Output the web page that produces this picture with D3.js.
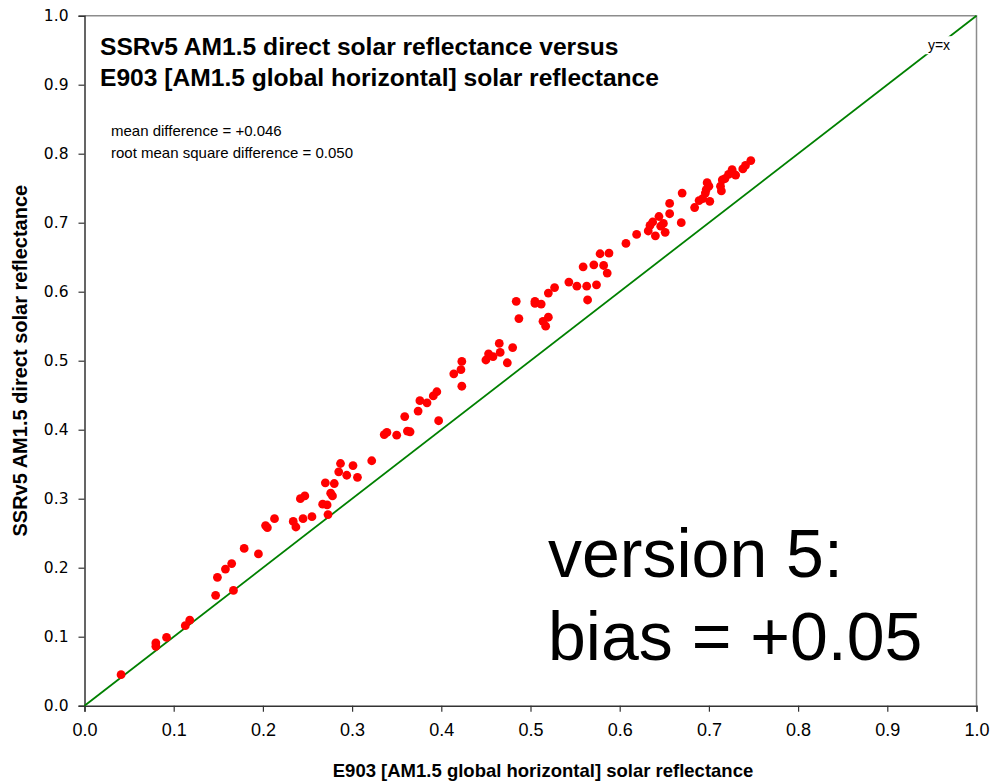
<!DOCTYPE html>
<html>
<head>
<meta charset="utf-8">
<script src="https://cdn.jsdelivr.net/npm/d3@7"></script>
<style>
  html, body { margin: 0; padding: 0; background: #fff; }
  svg { display: block; }
</style>
</head>
<body>
<svg id="chart" width="991" height="783"></svg>
<script>
// E903 [AM1.5 global horizontal] solar reflectance
const xValues = [
  0.041,0.080,0.080,0.092,0.113,0.118,0.147,0.149,0.158,0.165,0.167,0.179,0.195,
  0.203,0.205,0.213,0.234,0.237,0.245,0.255,0.242,0.247,0.267,0.272,0.273,0.270,0.280,0.276,0.278,0.287,0.285,0.294,0.301,0.306,0.322,
  0.336,0.339,0.350,0.362,0.365,0.359,0.374,0.376,0.384,0.391,0.395,0.397,0.414,0.422,0.423,0.423,0.450,0.453,0.458,0.466,0.465,0.474,0.480,0.484,0.487,
  0.505,0.505,0.512,0.520,0.514,0.517,0.520,0.527,0.543,0.552,0.563,0.564,0.574,0.559,0.571,0.582,0.586,0.578,0.588,0.607,0.619,
  0.632,0.634,0.637,0.640,0.644,0.646,0.649,0.651,0.656,0.656,0.669,0.670,0.684,0.689,0.693,0.696,0.698,0.701,0.700,0.697,0.713,0.715,0.714,0.718,0.722,0.726,0.727,0.730,0.738,0.741,0.747
];
// SSRv5 AM1.5 direct solar reflectance
const yValues = [
  0.045,0.091,0.086,0.099,0.116,0.124,0.160,0.186,0.198,0.206,0.167,0.228,0.220,
  0.261,0.258,0.271,0.267,0.259,0.271,0.274,0.300,0.304,0.292,0.291,0.277,0.323,0.322,0.308,0.304,0.351,0.339,0.334,0.348,0.331,0.355,
  0.393,0.396,0.392,0.398,0.397,0.419,0.427,0.442,0.439,0.449,0.455,0.413,0.481,0.487,0.499,0.463,0.501,0.510,0.506,0.512,0.525,0.497,0.519,0.586,0.561,
  0.586,0.583,0.582,0.563,0.557,0.550,0.598,0.606,0.614,0.608,0.608,0.588,0.610,0.636,0.639,0.638,0.627,0.655,0.656,0.670,0.683,
  0.688,0.696,0.701,0.681,0.709,0.695,0.699,0.686,0.713,0.728,0.700,0.743,0.722,0.732,0.735,0.743,0.758,0.731,0.753,0.748,0.753,0.762,0.746,0.764,0.770,0.777,0.772,0.769,0.778,0.783,0.790
];
const tickValues = [0,0.1,0.2,0.3,0.4,0.5,0.6,0.7,0.8,0.9,1.0];
const titleLines = ["SSRv5 AM1.5 direct solar reflectance versus", "E903 [AM1.5 global horizontal] solar reflectance"];
const statLines = ["mean difference = +0.046", "root mean square difference = 0.050"];
const bigLines = ["version 5:", "bias = +0.05"];
const xLabel = "E903 [AM1.5 global horizontal] solar reflectance";
const yLabel = "SSRv5 AM1.5 direct solar reflectance";
const refLine = [[0,0],[1,1]];

const W = 991, H = 783;
const m = {left: 84.5, right: 14.5, top: 15.7, bottom: 77.3};
const svg = d3.select("#chart");
const x = d3.scaleLinear().domain([0,1]).range([m.left, W - m.right]);
const y = d3.scaleLinear().domain([0,1]).range([H - m.bottom, m.top]);
const font = "'Liberation Sans', Arial, sans-serif";

// frame top/right
svg.append("path")
  .attr("d", `M${x(0)},${y(1)}H${x(1)}V${y(0)}`)
  .attr("fill","none").attr("stroke","#8c8c8c").attr("stroke-width",1.5);

// axes
const xAxis = svg.append("g").attr("transform",`translate(0,${y(0)})`)
  .call(d3.axisBottom(x).tickValues(tickValues).tickFormat(d3.format(".1f")).tickSizeOuter(0).tickSize(6).tickPadding(12));
xAxis.attr("font-family", font).attr("font-size", 18);
xAxis.selectAll("text").attr("fill","#000");
const yAxis = svg.append("g").attr("transform",`translate(${x(0)},0)`)
  .call(d3.axisLeft(y).tickValues(tickValues).tickFormat(d3.format(".1f")).tickSizeOuter(0).tickSize(6).tickPadding(10));
yAxis.attr("font-family", "'DejaVu Sans', Verdana, sans-serif").attr("font-size", 15.5);
yAxis.selectAll("text").attr("fill","#000");
[xAxis, yAxis].forEach(a => {
  a.select(".domain").attr("stroke","#333").attr("stroke-width",1.5);
  a.selectAll(".tick line").attr("stroke","#333").attr("stroke-width",1.2);
});

// y=x line
const line = d3.line().x(d => x(d[0])).y(d => y(d[1]));
svg.append("path").datum(refLine).attr("d", line)
  .attr("fill","none").attr("stroke","#008000").attr("stroke-width",1.8);

// y=x label with white background
const lblG = svg.append("g");
const bgRect = lblG.append("rect").attr("fill", "#fff");
const lbl = lblG.append("text").attr("x", x(0.958)).attr("y", y(0.950)).attr("text-anchor","middle")
  .attr("font-family", font).attr("font-size", 14).text("y=x");
const bb = lbl.node().getBBox();
bgRect.attr("x", bb.x - 3).attr("y", bb.y - 1).attr("width", bb.width + 6).attr("height", bb.height + 2);

// points
svg.append("g").selectAll("circle").data(xValues.map((v,i) => [v, yValues[i]]))
  .join("circle").attr("cx", d => x(d[0])).attr("cy", d => y(d[1])).attr("r", 4.4).attr("fill", "#ff0000");

// title
svg.append("g").selectAll("text").data(titleLines).join("text")
  .attr("x", 100).attr("y", (d,i) => 55 + i*31)
  .attr("font-family", font).attr("font-weight","bold").attr("font-size", 24.6).text(d => d);

// stats
svg.append("g").selectAll("text").data(statLines).join("text")
  .attr("x", 111).attr("y", (d,i) => 136 + i*22)
  .attr("font-family", font).attr("font-size", 15).text(d => d);

// big text
svg.append("g").selectAll("text").data(bigLines).join("text")
  .attr("x", 548).attr("y", (d,i) => 577 + i*83)
  .attr("font-family", font).attr("font-size", 68).text(d => d);

// axis labels
svg.append("text").attr("x", 543).attr("y", 777).attr("text-anchor","middle")
  .attr("font-family", font).attr("font-weight","bold").attr("font-size", 18.5).text(xLabel);
svg.append("text").attr("transform", `translate(27,${(y(0)+y(1))/2}) rotate(-90)`).attr("text-anchor","middle")
  .attr("font-family", font).attr("font-weight","bold").attr("font-size", 20).text(yLabel);
</script>
</body>
</html>
